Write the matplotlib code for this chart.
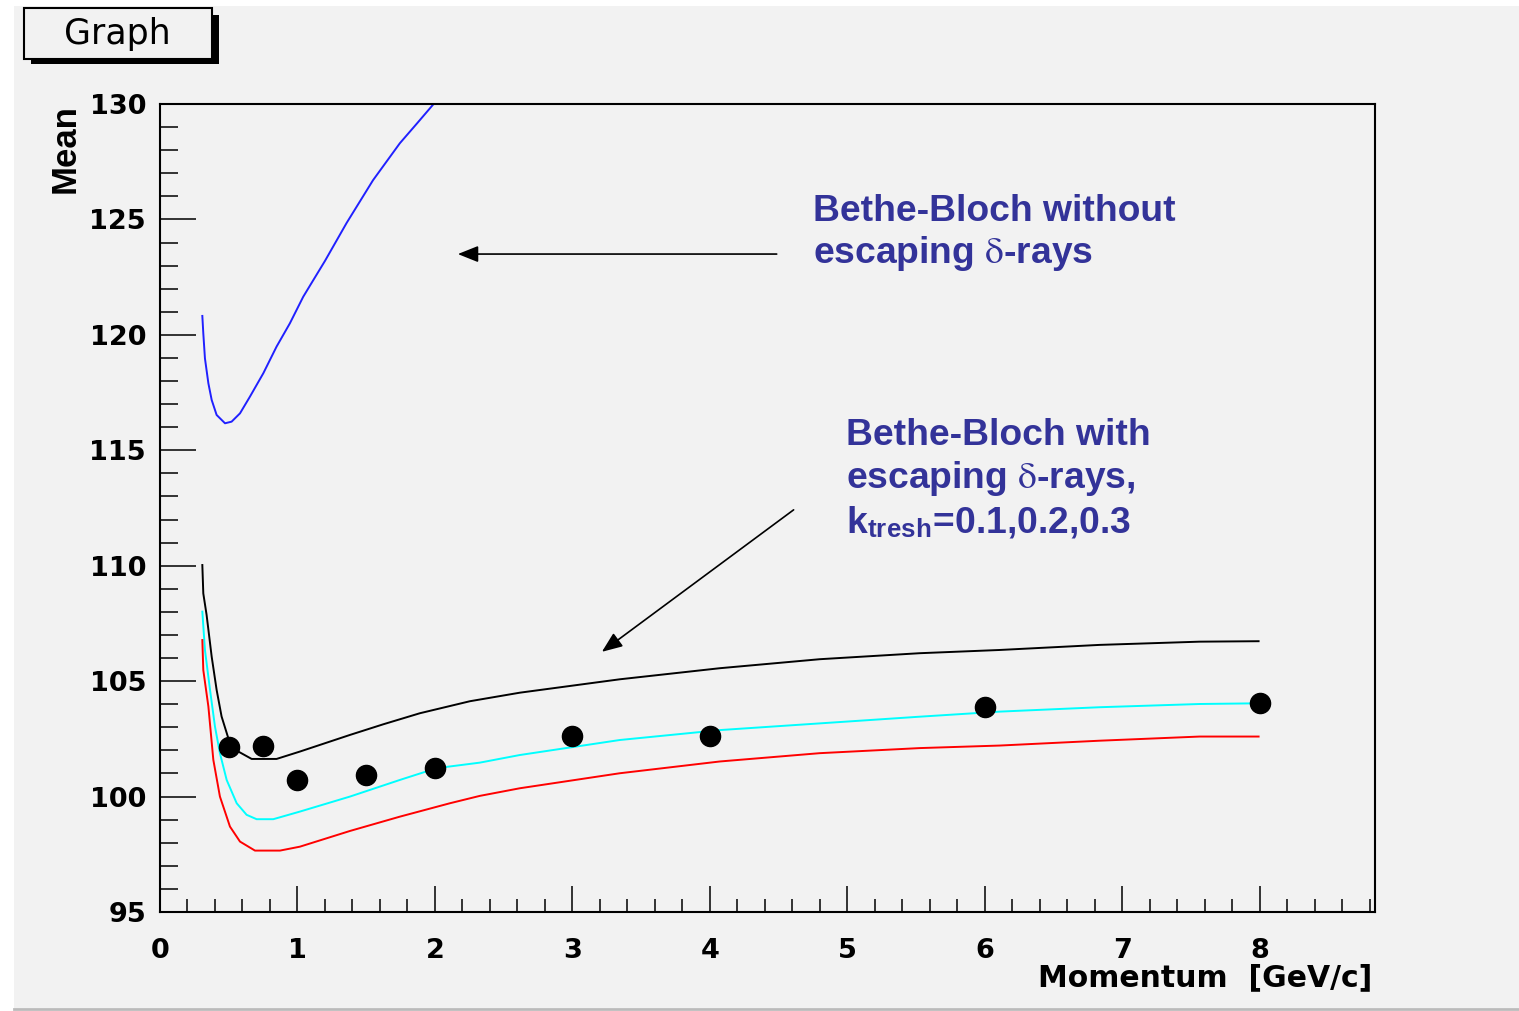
import numpy as np
import matplotlib
matplotlib.use("Agg")
import matplotlib.pyplot as plt
from matplotlib.patches import Rectangle
from matplotlib.lines import Line2D
from matplotlib.ticker import MultipleLocator

plt.rcParams['font.family'] = ['DejaVu Sans']
plt.rcParams['mathtext.fontset'] = 'stix'

W, H = 1519, 1011
CANVAS = '#f2f2f2'
LABEL_BLUE = '#333399'

# measured mean dE/dx vs momentum
p_meas = [0.5, 0.75, 1.0, 1.5, 2.0, 3.0, 4.0, 6.0, 8.0]
mean_meas = [102.15, 102.2, 100.72, 100.94, 101.24, 102.63, 102.63, 103.88, 104.06]

# Bethe-Bloch without escaping delta-rays
p_bb = [0.308, 0.315, 0.327, 0.352, 0.376, 0.412, 0.473, 0.521, 0.582, 0.655,
        0.752, 0.848, 0.945, 1.042, 1.103, 1.2, 1.358, 1.55, 1.745, 1.87, 1.985]
mean_bb = [120.82, 120.07, 118.98, 117.90, 117.18, 116.53, 116.17, 116.24, 116.60, 117.33,
           118.34, 119.49, 120.50, 121.65, 122.25, 123.2, 124.85, 126.7, 128.30, 129.16, 129.96]

# Bethe-Bloch with escaping delta-rays, k_tresh = 0.3 / 0.2 / 0.1
p_k03 = [0.308, 0.315, 0.339, 0.376, 0.412, 0.448, 0.497, 0.570, 0.667, 0.848, 1.018,
         1.382, 1.624, 1.891, 2.255, 2.618, 3.345, 4.073, 4.8, 5.527, 6.109, 6.836, 7.564, 7.993]
mean_k03 = [110.03, 108.8, 107.87, 106.06, 104.62, 103.47, 102.53, 101.95, 101.63, 101.63, 101.95,
            102.67, 103.13, 103.61, 104.13, 104.5, 105.08, 105.56, 105.95, 106.21, 106.35, 106.57, 106.71, 106.73]

p_k02 = [0.308, 0.327, 0.364, 0.4, 0.436, 0.485, 0.558, 0.630, 0.703, 0.824, 1.018,
         1.382, 1.745, 2.012, 2.327, 2.618, 3.345, 4.073, 4.8, 5.527, 6.109, 6.836, 7.564, 7.993]
mean_k02 = [108.01, 106.35, 104.62, 103.03, 101.88, 100.72, 99.71, 99.21, 99.02, 99.02, 99.35,
            100.0, 100.72, 101.23, 101.47, 101.80, 102.45, 102.88, 103.17, 103.46, 103.68, 103.87, 104.01, 104.04]

p_k01 = [0.308, 0.315, 0.352, 0.388, 0.436, 0.509, 0.582, 0.691, 0.873, 1.018,
         1.382, 1.745, 2.109, 2.327, 2.618, 3.345, 4.073, 4.8, 5.527, 6.109, 6.836, 7.564, 7.993]
mean_k01 = [106.78, 105.48, 103.90, 101.59, 100.0, 98.70, 98.05, 97.66, 97.66, 97.83,
            98.51, 99.13, 99.71, 100.03, 100.36, 101.01, 101.52, 101.88, 102.1, 102.21, 102.42, 102.60, 102.60]

x_ticks = [0, 1, 2, 3, 4, 5, 6, 7, 8]
y_ticks = [95, 100, 105, 110, 115, 120, 125, 130]


def fx(px):
    return px / W


def fy(py):
    return 1 - py / H


fig = plt.figure(figsize=(W / 100, H / 100), dpi=100, facecolor='white')

# canvas background and bottom edge
fig.patches.append(Rectangle((fx(14), fy(1008)), fx(1519) - fx(14), fy(6) - fy(1008),
                             transform=fig.transFigure, facecolor=CANVAS, edgecolor='none', zorder=-10))
fig.lines.append(Line2D([fx(14), 1], [fy(1009), fy(1009)], transform=fig.transFigure,
                        color='#bbbbbb', lw=2, zorder=-9))

# title box with drop shadow
fig.patches.append(Rectangle((fx(31), fy(64)), fx(219) - fx(31), fy(15) - fy(64),
                             transform=fig.transFigure, facecolor='black', edgecolor='none', zorder=1))
fig.patches.append(Rectangle((fx(24), fy(59)), fx(212) - fx(24), fy(8) - fy(59),
                             transform=fig.transFigure, facecolor=CANVAS, edgecolor='black',
                             lw=1.5, zorder=2))
fig.text(fx(117), fy(34), 'Graph', ha='center', va='center', fontsize=25, zorder=3)

ax = fig.add_axes([fx(160), fy(912), fx(1375) - fx(160), fy(104) - fy(912)])
ax.set_facecolor(CANVAS)

ax.plot(p_bb, mean_bb, color='#2020ff', lw=1.4)
ax.plot(p_k03, mean_k03, color='black', lw=1.4)
ax.plot(p_k02, mean_k02, color='#00ffff', lw=1.4)
ax.plot(p_k01, mean_k01, color='#ff0000', lw=1.4)
ax.plot(p_meas, mean_meas, 'o', color='black', ms=14.5, zorder=5)

ax.set_xlim(0, 8.84)
ax.set_ylim(95, 130)
ax.set_xticks(x_ticks)
ax.set_yticks(y_ticks)
ax.xaxis.set_minor_locator(MultipleLocator(0.2))
ax.yaxis.set_minor_locator(MultipleLocator(1))
ax.tick_params(axis='x', which='major', direction='in', length=19, width=1.1,
               labelsize=19.5, pad=19)
ax.tick_params(axis='x', which='minor', direction='in', length=9.5, width=1.1)
ax.tick_params(axis='y', which='major', direction='in', length=26, width=1.1,
               labelsize=19.5, pad=10)
ax.tick_params(axis='y', which='minor', direction='in', length=13, width=1.1)
for lbl in ax.get_xticklabels() + ax.get_yticklabels():
    lbl.set_fontweight('bold')
for sp in ax.spines.values():
    sp.set_linewidth(1.5)

# axis titles sit at the axis ends
fig.text(fx(65), fy(104), 'Mean', rotation=90, ha='center', va='top',
         fontsize=25, fontweight='bold', family=['Liberation Sans'])
fig.text(fx(1372), fy(978), 'Momentum  [GeV/c]', ha='right', va='center',
         fontsize=21.5, fontweight='bold')

# annotations
arrow = dict(arrowstyle='-|>,head_length=0.5,head_width=0.2', color='black',
             lw=1.2, mutation_scale=25, shrinkA=0, shrinkB=0)
ax.annotate('', xy=(2.167, 123.5), xytext=(4.487, 123.5), arrowprops=arrow)
ax.annotate('', xy=(3.215, 106.27), xytext=(4.61, 112.42), arrowprops=arrow)

txt = dict(color=LABEL_BLUE, fontsize=26.8, fontweight='bold', family=['Liberation Sans'],
           ha='left', va='baseline')
ax.text(4.749, 124.93, 'Bethe-Bloch without', **txt)
ax.text(4.749, 123.11, r'escaping $\mathrm{\delta}$-rays', **txt)
ax.text(4.989, 115.23, 'Bethe-Bloch with', **txt)
ax.text(4.989, 113.37, r'escaping $\mathrm{\delta}$-rays,', **txt)
ax.text(4.989, 111.46, r'k$_{\mathregular{tresh}}$=0.1,0.2,0.3', **txt)

fig.savefig('out.png', dpi=100, facecolor='white')
